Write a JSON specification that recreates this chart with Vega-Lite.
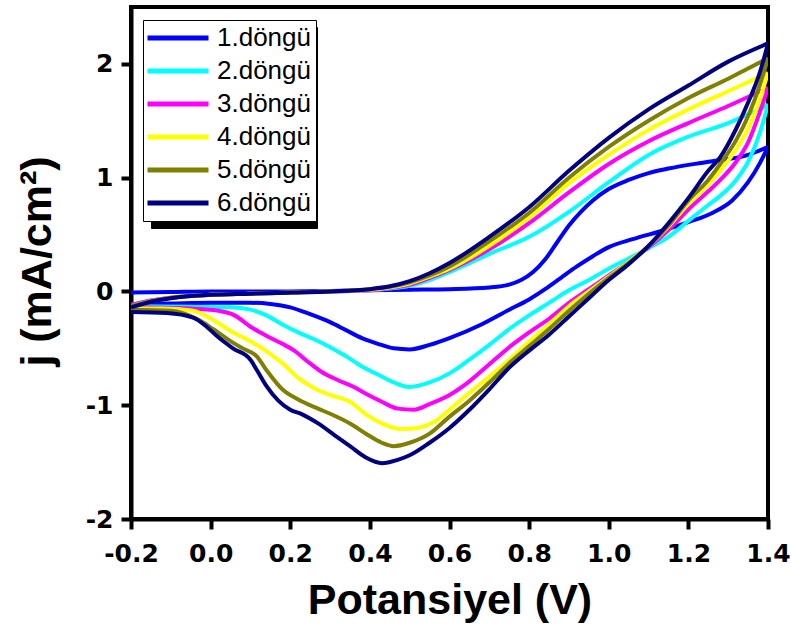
{
  "$schema": "https://vega.github.io/schema/vega-lite/v6.json",
  "width": 637,
  "height": 512,
  "autosize": {"type": "none"},
  "padding": {"left": 131, "top": 7, "right": 25, "bottom": 109},
  "background": "white",
  "config": {
    "font": "Liberation Sans",
    "view": {"stroke": "black", "strokeWidth": 4},
    "axis": {
      "grid": false,
      "domainColor": "black",
      "domainWidth": 4,
      "tickColor": "black",
      "tickWidth": 4,
      "tickSize": 10,
      "labelFont": "DejaVu Sans",
      "labelFontSize": 25,
      "labelFontWeight": "bold",
      "labelColor": "black",
      "titleFont": "Liberation Sans",
      "titleFontSize": 43,
      "titleFontWeight": "bold",
      "titleColor": "black"
    }
  },
  "layer": [
    {
      "data": {"name": "cv", "values": [
        {"c":"1.döngü","b":"f","v":-0.2,"j":-0.01},{"c":"1.döngü","b":"f","v":-0.1,"j":-0.005},{"c":"1.döngü","b":"f","v":0,"j":0},{"c":"1.döngü","b":"f","v":0.1,"j":0},{"c":"1.döngü","b":"f","v":0.2,"j":0},{"c":"1.döngü","b":"f","v":0.3,"j":0.005},{"c":"1.döngü","b":"f","v":0.4,"j":0.01},{"c":"1.döngü","b":"f","v":0.5,"j":0.015},{"c":"1.döngü","b":"f","v":0.6,"j":0.02},{"c":"1.döngü","b":"f","v":0.7,"j":0.035},{"c":"1.döngü","b":"f","v":0.75,"j":0.06},{"c":"1.döngü","b":"f","v":0.78,"j":0.1},{"c":"1.döngü","b":"f","v":0.81,"j":0.17},{"c":"1.döngü","b":"f","v":0.84,"j":0.28},{"c":"1.döngü","b":"f","v":0.87,"j":0.43},{"c":"1.döngü","b":"f","v":0.9,"j":0.58},{"c":"1.döngü","b":"f","v":0.93,"j":0.7},{"c":"1.döngü","b":"f","v":0.96,"j":0.8},{"c":"1.döngü","b":"f","v":1.0,"j":0.9},{"c":"1.döngü","b":"f","v":1.05,"j":0.98},{"c":"1.döngü","b":"f","v":1.1,"j":1.04},{"c":"1.döngü","b":"f","v":1.15,"j":1.08},{"c":"1.döngü","b":"f","v":1.25,"j":1.14},{"c":"1.döngü","b":"f","v":1.35,"j":1.2},{"c":"1.döngü","b":"f","v":1.4,"j":1.27},
        {"c":"1.döngü","b":"r","v":1.4,"j":1.27},{"c":"1.döngü","b":"r","v":1.38,"j":1.13},{"c":"1.döngü","b":"r","v":1.35,"j":0.96},{"c":"1.döngü","b":"r","v":1.31,"j":0.8},{"c":"1.döngü","b":"r","v":1.26,"j":0.69},{"c":"1.döngü","b":"r","v":1.2,"j":0.61},{"c":"1.döngü","b":"r","v":1.14,"j":0.54},{"c":"1.döngü","b":"r","v":1.06,"j":0.46},{"c":"1.döngü","b":"r","v":1.0,"j":0.39},{"c":"1.döngü","b":"r","v":0.96,"j":0.31},{"c":"1.döngü","b":"r","v":0.92,"j":0.22},{"c":"1.döngü","b":"r","v":0.88,"j":0.12},{"c":"1.döngü","b":"r","v":0.84,"j":0.02},{"c":"1.döngü","b":"r","v":0.8,"j":-0.07},{"c":"1.döngü","b":"r","v":0.75,"j":-0.16},{"c":"1.döngü","b":"r","v":0.68,"j":-0.29},{"c":"1.döngü","b":"r","v":0.6,"j":-0.41},{"c":"1.döngü","b":"r","v":0.55,"j":-0.47},{"c":"1.döngü","b":"r","v":0.5,"j":-0.51},{"c":"1.döngü","b":"r","v":0.46,"j":-0.5},{"c":"1.döngü","b":"r","v":0.42,"j":-0.46},{"c":"1.döngü","b":"r","v":0.38,"j":-0.41},{"c":"1.döngü","b":"r","v":0.34,"j":-0.34},{"c":"1.döngü","b":"r","v":0.3,"j":-0.27},{"c":"1.döngü","b":"r","v":0.25,"j":-0.2},{"c":"1.döngü","b":"r","v":0.2,"j":-0.14},{"c":"1.döngü","b":"r","v":0.15,"j":-0.11},{"c":"1.döngü","b":"r","v":0.1,"j":-0.1},{"c":"1.döngü","b":"r","v":0,"j":-0.1},{"c":"1.döngü","b":"r","v":-0.1,"j":-0.105},{"c":"1.döngü","b":"r","v":-0.2,"j":-0.11},
        {"c":"2.döngü","b":"f","v":-0.2,"j":-0.12},{"c":"2.döngü","b":"f","v":-0.15,"j":-0.08},{"c":"2.döngü","b":"f","v":-0.1,"j":-0.055},{"c":"2.döngü","b":"f","v":0,"j":-0.03},{"c":"2.döngü","b":"f","v":0.1,"j":-0.02},{"c":"2.döngü","b":"f","v":0.2,"j":-0.01},{"c":"2.döngü","b":"f","v":0.3,"j":0},{"c":"2.döngü","b":"f","v":0.4,"j":0.01},{"c":"2.döngü","b":"f","v":0.45,"j":0.025},{"c":"2.döngü","b":"f","v":0.5,"j":0.05},{"c":"2.döngü","b":"f","v":0.55,"j":0.1},{"c":"2.döngü","b":"f","v":0.6,"j":0.17},{"c":"2.döngü","b":"f","v":0.7,"j":0.33},{"c":"2.döngü","b":"f","v":0.8,"j":0.48},{"c":"2.döngü","b":"f","v":0.9,"j":0.7},{"c":"2.döngü","b":"f","v":1.0,"j":0.96},{"c":"2.döngü","b":"f","v":1.1,"j":1.2},{"c":"2.döngü","b":"f","v":1.2,"j":1.36},{"c":"2.döngü","b":"f","v":1.3,"j":1.48},{"c":"2.döngü","b":"f","v":1.4,"j":1.64},
        {"c":"2.döngü","b":"r","v":1.4,"j":1.64},{"c":"2.döngü","b":"r","v":1.38,"j":1.4},{"c":"2.döngü","b":"r","v":1.35,"j":1.14},{"c":"2.döngü","b":"r","v":1.32,"j":0.98},{"c":"2.döngü","b":"r","v":1.28,"j":0.84},{"c":"2.döngü","b":"r","v":1.25,"j":0.76},{"c":"2.döngü","b":"r","v":1.2,"j":0.62},{"c":"2.döngü","b":"r","v":1.15,"j":0.48},{"c":"2.döngü","b":"r","v":1.1,"j":0.38},{"c":"2.döngü","b":"r","v":1.05,"j":0.29},{"c":"2.döngü","b":"r","v":1.0,"j":0.2},{"c":"2.döngü","b":"r","v":0.95,"j":0.1},{"c":"2.döngü","b":"r","v":0.9,"j":0.01},{"c":"2.döngü","b":"r","v":0.85,"j":-0.1},{"c":"2.döngü","b":"r","v":0.8,"j":-0.21},{"c":"2.döngü","b":"r","v":0.75,"j":-0.33},{"c":"2.döngü","b":"r","v":0.7,"j":-0.47},{"c":"2.döngü","b":"r","v":0.65,"j":-0.6},{"c":"2.döngü","b":"r","v":0.6,"j":-0.72},{"c":"2.döngü","b":"r","v":0.55,"j":-0.8},{"c":"2.döngü","b":"r","v":0.5,"j":-0.84},{"c":"2.döngü","b":"r","v":0.46,"j":-0.8},{"c":"2.döngü","b":"r","v":0.42,"j":-0.73},{"c":"2.döngü","b":"r","v":0.38,"j":-0.66},{"c":"2.döngü","b":"r","v":0.34,"j":-0.57},{"c":"2.döngü","b":"r","v":0.3,"j":-0.49},{"c":"2.döngü","b":"r","v":0.26,"j":-0.42},{"c":"2.döngü","b":"r","v":0.22,"j":-0.36},{"c":"2.döngü","b":"r","v":0.18,"j":-0.29},{"c":"2.döngü","b":"r","v":0.14,"j":-0.21},{"c":"2.döngü","b":"r","v":0.1,"j":-0.16},{"c":"2.döngü","b":"r","v":0.05,"j":-0.14},{"c":"2.döngü","b":"r","v":-0.05,"j":-0.135},{"c":"2.döngü","b":"r","v":-0.2,"j":-0.13},
        {"c":"3.döngü","b":"f","v":-0.2,"j":-0.12},{"c":"3.döngü","b":"f","v":-0.15,"j":-0.08},{"c":"3.döngü","b":"f","v":-0.1,"j":-0.055},{"c":"3.döngü","b":"f","v":0,"j":-0.03},{"c":"3.döngü","b":"f","v":0.1,"j":-0.02},{"c":"3.döngü","b":"f","v":0.2,"j":-0.01},{"c":"3.döngü","b":"f","v":0.3,"j":0},{"c":"3.döngü","b":"f","v":0.4,"j":0.01},{"c":"3.döngü","b":"f","v":0.45,"j":0.03},{"c":"3.döngü","b":"f","v":0.5,"j":0.06},{"c":"3.döngü","b":"f","v":0.55,"j":0.12},{"c":"3.döngü","b":"f","v":0.6,"j":0.19},{"c":"3.döngü","b":"f","v":0.7,"j":0.37},{"c":"3.döngü","b":"f","v":0.8,"j":0.6},{"c":"3.döngü","b":"f","v":0.9,"j":0.87},{"c":"3.döngü","b":"f","v":1.0,"j":1.12},{"c":"3.döngü","b":"f","v":1.1,"j":1.32},{"c":"3.döngü","b":"f","v":1.2,"j":1.48},{"c":"3.döngü","b":"f","v":1.3,"j":1.63},{"c":"3.döngü","b":"f","v":1.4,"j":1.79},
        {"c":"3.döngü","b":"r","v":1.4,"j":1.79},{"c":"3.döngü","b":"r","v":1.38,"j":1.58},{"c":"3.döngü","b":"r","v":1.35,"j":1.31},{"c":"3.döngü","b":"r","v":1.32,"j":1.14},{"c":"3.döngü","b":"r","v":1.28,"j":0.98},{"c":"3.döngü","b":"r","v":1.25,"j":0.88},{"c":"3.döngü","b":"r","v":1.2,"j":0.72},{"c":"3.döngü","b":"r","v":1.15,"j":0.54},{"c":"3.döngü","b":"r","v":1.1,"j":0.39},{"c":"3.döngü","b":"r","v":1.05,"j":0.26},{"c":"3.döngü","b":"r","v":1.0,"j":0.14},{"c":"3.döngü","b":"r","v":0.95,"j":0.02},{"c":"3.döngü","b":"r","v":0.9,"j":-0.1},{"c":"3.döngü","b":"r","v":0.85,"j":-0.24},{"c":"3.döngü","b":"r","v":0.8,"j":-0.36},{"c":"3.döngü","b":"r","v":0.75,"j":-0.49},{"c":"3.döngü","b":"r","v":0.7,"j":-0.64},{"c":"3.döngü","b":"r","v":0.65,"j":-0.79},{"c":"3.döngü","b":"r","v":0.6,"j":-0.91},{"c":"3.döngü","b":"r","v":0.55,"j":-0.99},{"c":"3.döngü","b":"r","v":0.51,"j":-1.04},{"c":"3.döngü","b":"r","v":0.47,"j":-1.03},{"c":"3.döngü","b":"r","v":0.43,"j":-0.97},{"c":"3.döngü","b":"r","v":0.39,"j":-0.9},{"c":"3.döngü","b":"r","v":0.36,"j":-0.84},{"c":"3.döngü","b":"r","v":0.32,"j":-0.78},{"c":"3.döngü","b":"r","v":0.28,"j":-0.71},{"c":"3.döngü","b":"r","v":0.245,"j":-0.62},{"c":"3.döngü","b":"r","v":0.21,"j":-0.52},{"c":"3.döngü","b":"r","v":0.18,"j":-0.46},{"c":"3.döngü","b":"r","v":0.14,"j":-0.39},{"c":"3.döngü","b":"r","v":0.1,"j":-0.31},{"c":"3.döngü","b":"r","v":0.06,"j":-0.21},{"c":"3.döngü","b":"r","v":0.02,"j":-0.17},{"c":"3.döngü","b":"r","v":-0.05,"j":-0.15},{"c":"3.döngü","b":"r","v":-0.2,"j":-0.14},
        {"c":"4.döngü","b":"f","v":-0.2,"j":-0.13},{"c":"4.döngü","b":"f","v":-0.15,"j":-0.085},{"c":"4.döngü","b":"f","v":-0.1,"j":-0.055},{"c":"4.döngü","b":"f","v":0,"j":-0.03},{"c":"4.döngü","b":"f","v":0.1,"j":-0.02},{"c":"4.döngü","b":"f","v":0.2,"j":-0.01},{"c":"4.döngü","b":"f","v":0.3,"j":0},{"c":"4.döngü","b":"f","v":0.4,"j":0.015},{"c":"4.döngü","b":"f","v":0.45,"j":0.035},{"c":"4.döngü","b":"f","v":0.5,"j":0.07},{"c":"4.döngü","b":"f","v":0.55,"j":0.13},{"c":"4.döngü","b":"f","v":0.6,"j":0.2},{"c":"4.döngü","b":"f","v":0.7,"j":0.4},{"c":"4.döngü","b":"f","v":0.8,"j":0.65},{"c":"4.döngü","b":"f","v":0.9,"j":0.95},{"c":"4.döngü","b":"f","v":1.0,"j":1.2},{"c":"4.döngü","b":"f","v":1.1,"j":1.42},{"c":"4.döngü","b":"f","v":1.2,"j":1.6},{"c":"4.döngü","b":"f","v":1.3,"j":1.76},{"c":"4.döngü","b":"f","v":1.4,"j":1.92},
        {"c":"4.döngü","b":"r","v":1.4,"j":1.92},{"c":"4.döngü","b":"r","v":1.38,"j":1.7},{"c":"4.döngü","b":"r","v":1.35,"j":1.43},{"c":"4.döngü","b":"r","v":1.32,"j":1.25},{"c":"4.döngü","b":"r","v":1.28,"j":1.06},{"c":"4.döngü","b":"r","v":1.25,"j":0.94},{"c":"4.döngü","b":"r","v":1.2,"j":0.77},{"c":"4.döngü","b":"r","v":1.15,"j":0.57},{"c":"4.döngü","b":"r","v":1.1,"j":0.4},{"c":"4.döngü","b":"r","v":1.05,"j":0.26},{"c":"4.döngü","b":"r","v":1.0,"j":0.13},{"c":"4.döngü","b":"r","v":0.95,"j":0},{"c":"4.döngü","b":"r","v":0.9,"j":-0.13},{"c":"4.döngü","b":"r","v":0.85,"j":-0.29},{"c":"4.döngü","b":"r","v":0.8,"j":-0.44},{"c":"4.döngü","b":"r","v":0.75,"j":-0.6},{"c":"4.döngü","b":"r","v":0.7,"j":-0.75},{"c":"4.döngü","b":"r","v":0.65,"j":-0.89},{"c":"4.döngü","b":"r","v":0.6,"j":-1.04},{"c":"4.döngü","b":"r","v":0.56,"j":-1.15},{"c":"4.döngü","b":"r","v":0.52,"j":-1.2},{"c":"4.döngü","b":"r","v":0.48,"j":-1.21},{"c":"4.döngü","b":"r","v":0.43,"j":-1.16},{"c":"4.döngü","b":"r","v":0.39,"j":-1.08},{"c":"4.döngü","b":"r","v":0.35,"j":-0.97},{"c":"4.döngü","b":"r","v":0.3,"j":-0.91},{"c":"4.döngü","b":"r","v":0.26,"j":-0.85},{"c":"4.döngü","b":"r","v":0.22,"j":-0.76},{"c":"4.döngü","b":"r","v":0.18,"j":-0.63},{"c":"4.döngü","b":"r","v":0.15,"j":-0.55},{"c":"4.döngü","b":"r","v":0.12,"j":-0.48},{"c":"4.döngü","b":"r","v":0.09,"j":-0.42},{"c":"4.döngü","b":"r","v":0.056,"j":-0.36},{"c":"4.döngü","b":"r","v":0.006,"j":-0.25},{"c":"4.döngü","b":"r","v":-0.044,"j":-0.17},{"c":"4.döngü","b":"r","v":-0.12,"j":-0.15},{"c":"4.döngü","b":"r","v":-0.2,"j":-0.15},
        {"c":"5.döngü","b":"f","v":-0.2,"j":-0.13},{"c":"5.döngü","b":"f","v":-0.15,"j":-0.085},{"c":"5.döngü","b":"f","v":-0.1,"j":-0.055},{"c":"5.döngü","b":"f","v":0,"j":-0.03},{"c":"5.döngü","b":"f","v":0.1,"j":-0.02},{"c":"5.döngü","b":"f","v":0.2,"j":-0.01},{"c":"5.döngü","b":"f","v":0.3,"j":0},{"c":"5.döngü","b":"f","v":0.4,"j":0.02},{"c":"5.döngü","b":"f","v":0.45,"j":0.04},{"c":"5.döngü","b":"f","v":0.5,"j":0.08},{"c":"5.döngü","b":"f","v":0.55,"j":0.14},{"c":"5.döngü","b":"f","v":0.6,"j":0.22},{"c":"5.döngü","b":"f","v":0.7,"j":0.44},{"c":"5.döngü","b":"f","v":0.8,"j":0.69},{"c":"5.döngü","b":"f","v":0.9,"j":1.0},{"c":"5.döngü","b":"f","v":1.0,"j":1.27},{"c":"5.döngü","b":"f","v":1.1,"j":1.5},{"c":"5.döngü","b":"f","v":1.2,"j":1.7},{"c":"5.döngü","b":"f","v":1.3,"j":1.87},{"c":"5.döngü","b":"f","v":1.4,"j":2.05},
        {"c":"5.döngü","b":"r","v":1.4,"j":2.05},{"c":"5.döngü","b":"r","v":1.38,"j":1.82},{"c":"5.döngü","b":"r","v":1.35,"j":1.54},{"c":"5.döngü","b":"r","v":1.32,"j":1.33},{"c":"5.döngü","b":"r","v":1.28,"j":1.12},{"c":"5.döngü","b":"r","v":1.25,"j":0.98},{"c":"5.döngü","b":"r","v":1.2,"j":0.8},{"c":"5.döngü","b":"r","v":1.15,"j":0.58},{"c":"5.döngü","b":"r","v":1.1,"j":0.4},{"c":"5.döngü","b":"r","v":1.05,"j":0.25},{"c":"5.döngü","b":"r","v":1.0,"j":0.12},{"c":"5.döngü","b":"r","v":0.95,"j":-0.02},{"c":"5.döngü","b":"r","v":0.9,"j":-0.17},{"c":"5.döngü","b":"r","v":0.85,"j":-0.33},{"c":"5.döngü","b":"r","v":0.8,"j":-0.48},{"c":"5.döngü","b":"r","v":0.75,"j":-0.63},{"c":"5.döngü","b":"r","v":0.7,"j":-0.8},{"c":"5.döngü","b":"r","v":0.65,"j":-0.96},{"c":"5.döngü","b":"r","v":0.6,"j":-1.1},{"c":"5.döngü","b":"r","v":0.55,"j":-1.25},{"c":"5.döngü","b":"r","v":0.5,"j":-1.33},{"c":"5.döngü","b":"r","v":0.46,"j":-1.36},{"c":"5.döngü","b":"r","v":0.43,"j":-1.33},{"c":"5.döngü","b":"r","v":0.39,"j":-1.25},{"c":"5.döngü","b":"r","v":0.35,"j":-1.16},{"c":"5.döngü","b":"r","v":0.31,"j":-1.09},{"c":"5.döngü","b":"r","v":0.27,"j":-1.03},{"c":"5.döngü","b":"r","v":0.22,"j":-0.95},{"c":"5.döngü","b":"r","v":0.18,"j":-0.86},{"c":"5.döngü","b":"r","v":0.14,"j":-0.69},{"c":"5.döngü","b":"r","v":0.116,"j":-0.57},{"c":"5.döngü","b":"r","v":0.08,"j":-0.5},{"c":"5.döngü","b":"r","v":0.056,"j":-0.45},{"c":"5.döngü","b":"r","v":0.006,"j":-0.33},{"c":"5.döngü","b":"r","v":-0.03,"j":-0.25},{"c":"5.döngü","b":"r","v":-0.1,"j":-0.17},{"c":"5.döngü","b":"r","v":-0.2,"j":-0.16},
        {"c":"6.döngü","b":"f","v":-0.2,"j":-0.14},{"c":"6.döngü","b":"f","v":-0.15,"j":-0.09},{"c":"6.döngü","b":"f","v":-0.1,"j":-0.06},{"c":"6.döngü","b":"f","v":0,"j":-0.03},{"c":"6.döngü","b":"f","v":0.1,"j":-0.02},{"c":"6.döngü","b":"f","v":0.2,"j":-0.01},{"c":"6.döngü","b":"f","v":0.3,"j":0},{"c":"6.döngü","b":"f","v":0.4,"j":0.02},{"c":"6.döngü","b":"f","v":0.45,"j":0.045},{"c":"6.döngü","b":"f","v":0.5,"j":0.09},{"c":"6.döngü","b":"f","v":0.55,"j":0.16},{"c":"6.döngü","b":"f","v":0.6,"j":0.25},{"c":"6.döngü","b":"f","v":0.7,"j":0.48},{"c":"6.döngü","b":"f","v":0.8,"j":0.74},{"c":"6.döngü","b":"f","v":0.9,"j":1.06},{"c":"6.döngü","b":"f","v":1.0,"j":1.35},{"c":"6.döngü","b":"f","v":1.1,"j":1.6},{"c":"6.döngü","b":"f","v":1.2,"j":1.81},{"c":"6.döngü","b":"f","v":1.3,"j":2.02},{"c":"6.döngü","b":"f","v":1.4,"j":2.18},
        {"c":"6.döngü","b":"r","v":1.4,"j":2.18},{"c":"6.döngü","b":"r","v":1.38,"j":1.93},{"c":"6.döngü","b":"r","v":1.35,"j":1.66},{"c":"6.döngü","b":"r","v":1.32,"j":1.43},{"c":"6.döngü","b":"r","v":1.28,"j":1.18},{"c":"6.döngü","b":"r","v":1.25,"j":1.06},{"c":"6.döngü","b":"r","v":1.2,"j":0.82},{"c":"6.döngü","b":"r","v":1.15,"j":0.6},{"c":"6.döngü","b":"r","v":1.1,"j":0.4},{"c":"6.döngü","b":"r","v":1.05,"j":0.24},{"c":"6.döngü","b":"r","v":1.0,"j":0.1},{"c":"6.döngü","b":"r","v":0.95,"j":-0.06},{"c":"6.döngü","b":"r","v":0.9,"j":-0.22},{"c":"6.döngü","b":"r","v":0.85,"j":-0.38},{"c":"6.döngü","b":"r","v":0.8,"j":-0.52},{"c":"6.döngü","b":"r","v":0.75,"j":-0.67},{"c":"6.döngü","b":"r","v":0.7,"j":-0.86},{"c":"6.döngü","b":"r","v":0.65,"j":-1.04},{"c":"6.döngü","b":"r","v":0.6,"j":-1.2},{"c":"6.döngü","b":"r","v":0.55,"j":-1.33},{"c":"6.döngü","b":"r","v":0.5,"j":-1.44},{"c":"6.döngü","b":"r","v":0.47,"j":-1.48},{"c":"6.döngü","b":"r","v":0.43,"j":-1.51},{"c":"6.döngü","b":"r","v":0.39,"j":-1.46},{"c":"6.döngü","b":"r","v":0.35,"j":-1.36},{"c":"6.döngü","b":"r","v":0.31,"j":-1.26},{"c":"6.döngü","b":"r","v":0.27,"j":-1.16},{"c":"6.döngü","b":"r","v":0.23,"j":-1.08},{"c":"6.döngü","b":"r","v":0.2,"j":-1.04},{"c":"6.döngü","b":"r","v":0.17,"j":-0.96},{"c":"6.döngü","b":"r","v":0.14,"j":-0.83},{"c":"6.döngü","b":"r","v":0.116,"j":-0.69},{"c":"6.döngü","b":"r","v":0.1,"j":-0.6},{"c":"6.döngü","b":"r","v":0.056,"j":-0.5},{"c":"6.döngü","b":"r","v":0.015,"j":-0.39},{"c":"6.döngü","b":"r","v":-0.01,"j":-0.31},{"c":"6.döngü","b":"r","v":-0.044,"j":-0.23},{"c":"6.döngü","b":"r","v":-0.11,"j":-0.19},{"c":"6.döngü","b":"r","v":-0.2,"j":-0.18}
      ]},
      "mark": {"type": "line", "interpolate": "monotone", "strokeWidth": 4, "clip": true},
      "encoding": {
        "x": {
          "field": "v", "type": "quantitative",
          "scale": {"domain": [-0.2, 1.4], "nice": false, "zero": false},
          "axis": {
            "title": "Potansiyel (V)",
            "values": [-0.2, 0, 0.2, 0.4, 0.6, 0.8, 1.0, 1.2, 1.4],
            "format": ".1f",
            "labelExpr": "replace(datum.label, '\u2212', '-')",
            "labelPadding": 12,
            "labelFlush": false,
            "labelOverlap": false,
            "titleBaseline": "alphabetic",
            "titleY": 94
          }
        },
        "y": {
          "field": "j", "type": "quantitative",
          "scale": {"domain": [-2, 2.5], "nice": false, "zero": false},
          "axis": {
            "title": "j (mA/cm²)",
            "values": [-2, -1, 0, 1, 2],
            "format": "d",
            "labelExpr": "replace(datum.label, '\u2212', '-')",
            "labelPadding": 8,
            "labelFlush": false,
            "labelOverlap": false,
            "titleBaseline": "alphabetic",
            "titleAngle": -90,
            "titleX": -81,
            "titleY": 254
          }
        },
        "color": {
          "field": "c", "type": "nominal",
          "scale": {
            "domain": ["1.döngü", "2.döngü", "3.döngü", "4.döngü", "5.döngü", "6.döngü"],
            "range": ["#0000ff", "#00ffff", "#ff00ff", "#ffff00", "#808000", "#000080"]
          },
          "legend": {
            "title": null,
            "orient": "none",
            "legendX": 12,
            "legendY": 13,
            "fillColor": "white",
            "strokeColor": "black",
            "padding": 5,
            "rowPadding": 7,
            "symbolType": "M-1.35,0H4.75",
            "symbolSize": 400,
            "symbolStrokeWidth": 5,
            "symbolOpacity": 1,
            "labelFont": "Liberation Sans",
            "labelFontSize": 26,
            "labelColor": "black",
            "labelOffset": 43,
            "zindex": 2
          }
        },
        "detail": {"field": "b", "type": "nominal"}
      }
    },
    {
      "data": {"values": [{"s": "1.döngü"}, {"s": "2.döngü"}, {"s": "3.döngü"}, {"s": "4.döngü"}, {"s": "5.döngü"}, {"s": "6.döngü"}]},
      "mark": {"type": "point", "opacity": 0},
      "encoding": {
        "fill": {
          "field": "s", "type": "nominal",
          "scale": {"range": ["black", "black", "black", "black", "black", "black"]},
          "legend": {
            "title": null,
            "orient": "none",
            "legendX": 20,
            "legendY": 20,
            "fillColor": "black",
            "strokeColor": "black",
            "padding": 5,
            "rowPadding": 7,
            "symbolType": "M-1.35,0H4.75",
            "symbolSize": 400,
            "symbolStrokeWidth": 5,
            "symbolOpacity": 1,
            "symbolStrokeColor": "black",
            "labelFont": "Liberation Sans",
            "labelFontSize": 26,
            "labelColor": "black",
            "labelExpr": "' '",
            "labelOffset": 130,
            "zindex": 1
          }
        }
      }
    }
  ]
}
